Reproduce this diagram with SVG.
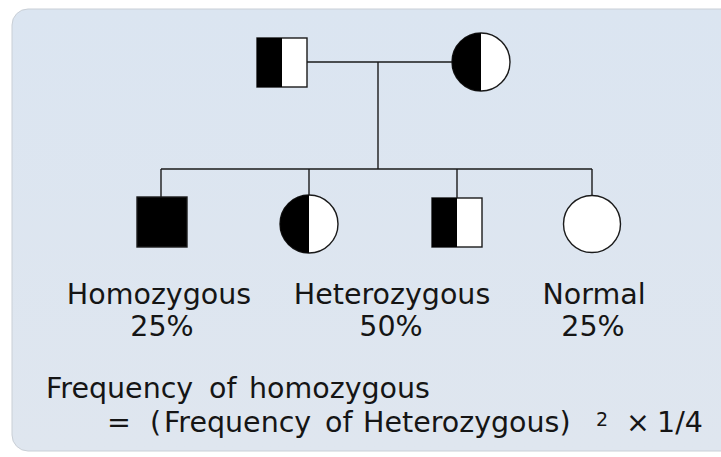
<svg xmlns="http://www.w3.org/2000/svg" width="721" height="457" viewBox="0 0 721 457">
  <style>
    .sym { stroke: #1a1a1a; stroke-width: 1.4; }
    .line { stroke: #1a1a1a; stroke-width: 1.4; fill: none; }
    .lbl { font-family: "DejaVu Sans", Verdana, sans-serif; font-size: 28.5px; fill: #151515; }
  </style>
  <defs>
    <linearGradient id="panelFill" x1="0" y1="0" x2="0" y2="1">
      <stop offset="0" stop-color="#dbe5f1"/>
      <stop offset="1" stop-color="#dfe6ef"/>
    </linearGradient>
  </defs>

  <rect width="721" height="457" fill="#ffffff"/>
  <!-- background panel -->
  <rect x="12" y="9" width="730" height="442" rx="16" fill="url(#panelFill)" stroke="#c9cfd6" stroke-width="1"/>

  <!-- connectors -->
  <g id="connectors" class="line">
    <line x1="307" y1="62" x2="452" y2="62"/>
    <line x1="378" y1="62" x2="378" y2="169"/>
    <line x1="161" y1="169" x2="592" y2="169"/>
    <line x1="161" y1="169" x2="161" y2="197"/>
    <line x1="309" y1="169" x2="309" y2="195"/>
    <line x1="457" y1="169" x2="457" y2="198"/>
    <line x1="592" y1="169" x2="592" y2="196"/>
  </g>

  <!-- father: carrier male -->
  <g id="father">
    <rect x="257" y="38" width="50" height="49" fill="#ffffff" class="sym"/>
    <rect x="257" y="38" width="25" height="49" fill="#000000"/>
  </g>

  <!-- mother: carrier female -->
  <g id="mother">
    <circle cx="481" cy="62" r="29" fill="#ffffff" class="sym"/>
    <path d="M481 33 A29 29 0 0 0 481 91 Z" fill="#000000"/>
  </g>

  <!-- affected son -->
  <g id="child-homozygous">
    <rect x="137" y="197" width="50" height="50" fill="#000000" class="sym"/>
  </g>

  <!-- carrier daughter -->
  <g id="child-heterozygous-female">
    <circle cx="309" cy="224" r="29" fill="#ffffff" class="sym"/>
    <path d="M309 195 A29 29 0 0 0 309 253 Z" fill="#000000"/>
  </g>

  <!-- carrier son -->
  <g id="child-heterozygous-male">
    <rect x="432" y="198" width="50" height="49" fill="#ffffff" class="sym"/>
    <rect x="432" y="198" width="25" height="49" fill="#000000"/>
  </g>

  <!-- unaffected daughter -->
  <g id="child-normal">
    <circle cx="592" cy="224" r="28.5" fill="#ffffff" class="sym"/>
  </g>

  <!-- genotype labels -->
  <g id="labels" class="lbl" text-anchor="middle">
    <text x="159" y="304">Homozygous</text>
    <text x="162" y="336">25%</text>
    <text x="392" y="304">Heterozygous</text>
    <text x="391" y="336">50%</text>
    <text x="594" y="304">Normal</text>
    <text x="593" y="336">25%</text>
  </g>

  <!-- formula -->
  <g id="formula" class="lbl">
    <text x="46" y="398">Frequency<tspan x="209">of</tspan><tspan x="249">homozygous</tspan></text>
    <text x="107" y="432">=<tspan x="150">(</tspan><tspan x="164">Frequency</tspan><tspan x="325">of</tspan><tspan x="363">Heterozygous)</tspan><tspan x="596" y="426" font-size="19px">2</tspan><tspan x="626" y="432">×</tspan><tspan x="657">1/4</tspan></text>
  </g>
</svg>
